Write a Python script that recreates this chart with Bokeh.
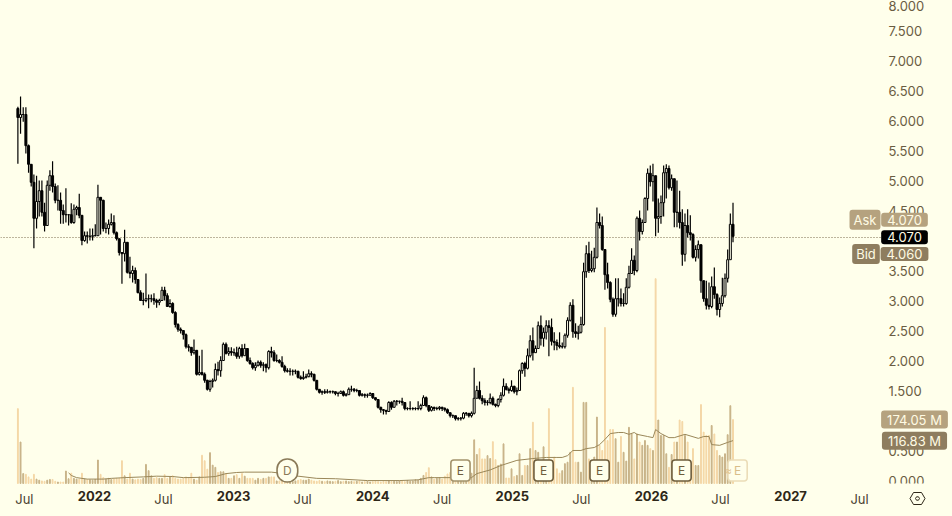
from datetime import datetime, timedelta
from bokeh.plotting import figure
from bokeh.models import (ColumnDataSource, Range1d, LinearAxis, DatetimeAxis, FixedTicker, Label,
                          NumeralTickFormatter, BoxAnnotation, PolyAnnotation)
from bokeh.embed import file_html
from bokeh.resources import INLINE

BG = "#FFFFEB"
FIRST_WEEK = datetime(2021, 6, 14)
FIRST_OPEN = 6.20
closes = [
 6.05,6.10,6.10,5.58,5.27,4.97,4.37,4.65,4.83,4.47, 4.25,4.92,5.08,4.90,4.67,4.67,4.50,4.43,4.43,4.43,
 4.30,4.52,4.55,4.42,4.00,4.08,4.07,4.07,4.08,4.08, 4.72,4.67,4.20,4.20,4.27,4.30,4.13,4.03,3.80,3.78,
 3.97,3.47,3.45,3.50,3.35,3.13,3.00,3.00,3.03,3.03, 3.03,3.00,2.97,3.00,3.17,3.08,2.90,2.95,2.80,2.60,
 2.52,2.50,2.43,2.23,2.22,2.13,2.17,1.77,1.80,1.77, 1.67,1.52,1.65,1.67,1.85,1.83,2.00,2.27,2.12,2.15,
 2.13,2.13,2.07,2.20,2.08,2.20,2.00,1.95,1.88,1.92, 1.97,1.92,1.93,1.88,2.15,2.13,2.00,2.00,1.97,1.90,
 1.83,1.82,1.82,1.82,1.82,1.72,1.70,1.72,1.73,1.78, 1.77,1.67,1.52,1.47,1.48,1.47,1.48,1.48,1.48,1.45,
 1.45,1.48,1.42,1.43,1.52,1.52,1.50,1.50,1.42,1.43, 1.42,1.42,1.45,1.38,1.35,1.22,1.18,1.17,1.15,1.30,
 1.22,1.32,1.32,1.32,1.30,1.20,1.20,1.20,1.20,1.20, 1.20,1.25,1.38,1.25,1.17,1.22,1.20,1.20,1.22,1.20,
 1.18,1.13,1.08,1.08,1.03,1.03,1.04,1.12,1.12,1.08, 1.12,1.37,1.50,1.37,1.33,1.30,1.30,1.37,1.27,1.25,
 1.35,1.42,1.57,1.52,1.50,1.57,1.48,1.50,1.83,1.95, 1.87,2.08,2.33,2.13,2.20,2.58,2.37,2.47,2.58,2.55,
 2.32,2.30,2.25,2.23,2.23,2.42,2.67,2.92,2.48,2.45, 2.47,2.60,3.48,3.78,3.50,3.53,3.72,4.30,4.25,3.85,
 3.43,3.30,3.02,2.77,3.03,3.03,2.95,2.95,3.22,3.45, 3.67,3.50,4.37,4.15,4.30,4.70,5.12,4.98,5.08,4.37,
 4.40,4.63,5.13,5.20,4.88,5.03,4.47,4.47,4.30,3.77, 4.25,4.13,4.10,3.72,3.85,3.93,3.33,3.03,2.92,2.90,
 3.23,3.10,2.85,2.95,3.08,3.37,3.68,4.27,4.07]
highs = [
 6.23,6.40,6.22,6.22,5.60,5.27,5.10,5.08,5.00,5.00, 4.63,5.00,5.17,5.32,4.95,4.92,4.80,4.60,4.87,4.43,
 4.62,4.60,4.58,4.78,4.42,4.15,4.15,4.20,4.20,4.27, 4.93,4.72,4.68,4.30,4.35,4.45,4.42,4.15,4.03,3.80,
 4.18,3.97,3.73,3.58,3.55,3.35,3.17,3.13,3.45,3.10, 3.10,3.12,3.03,3.03,3.23,3.23,3.12,3.02,2.97,2.82,
 2.62,2.55,2.50,2.45,2.27,2.22,2.35,2.17,2.08,2.18, 1.80,1.68,1.68,1.70,1.95,1.98,2.07,2.30,2.30,2.22,
 2.22,2.20,2.23,2.23,2.27,2.28,2.20,2.05,1.97,1.97, 2.00,2.00,1.97,1.95,2.17,2.23,2.17,2.10,2.02,2.07,
 1.93,1.87,1.87,1.85,1.85,1.83,1.75,1.82,1.78,1.85, 1.82,1.78,1.67,1.52,1.50,1.52,1.52,1.50,1.50,1.48,
 1.48,1.50,1.50,1.46,1.55,1.58,1.54,1.53,1.50,1.46, 1.45,1.45,1.47,1.46,1.38,1.35,1.23,1.19,1.17,1.32,
 1.32,1.34,1.34,1.33,1.38,1.30,1.22,1.32,1.22,1.22, 1.32,1.28,1.42,1.40,1.26,1.24,1.23,1.23,1.24,1.23,
 1.22,1.20,1.13,1.10,1.08,1.06,1.06,1.14,1.14,1.12, 1.15,1.88,1.58,1.65,1.42,1.37,1.34,1.45,1.40,1.28,
 1.37,1.47,1.70,1.62,1.55,1.67,1.58,1.55,1.85,1.97, 1.98,2.20,2.42,2.55,2.25,2.65,2.75,2.55,2.67,2.67,
 2.70,2.47,2.35,2.47,2.30,2.45,2.72,2.97,3.02,2.62, 2.58,2.73,3.63,3.92,3.98,3.83,3.88,4.55,4.45,4.40,
 3.85,3.63,3.32,3.05,3.37,3.37,3.20,3.12,3.37,3.58, 3.87,3.75,4.40,4.50,4.35,4.72,5.20,5.25,5.28,5.08,
 4.70,4.75,5.25,5.27,5.25,5.10,5.02,5.00,4.83,4.52, 4.45,4.52,4.42,4.12,3.92,4.00,3.93,3.33,3.33,3.30,
 3.40,3.55,3.12,3.05,3.38,3.45,3.85,4.45,4.63]
lows = [
 5.28,5.78,5.98,5.45,5.13,4.90,3.87,4.20,4.40,4.40, 4.15,4.25,4.83,4.80,4.62,4.50,4.28,4.28,4.30,4.25,
 4.28,4.28,4.42,4.37,3.92,3.98,3.95,4.00,4.00,4.07, 4.10,4.10,4.15,4.12,4.10,4.25,4.10,4.00,3.75,3.28,
 3.65,3.45,3.37,3.30,3.28,3.12,3.00,2.92,2.97,2.87, 2.97,2.93,2.88,2.92,3.00,3.00,2.90,2.88,2.78,2.55,
 2.48,2.45,2.35,2.20,2.15,2.08,2.10,1.75,1.75,1.75, 1.63,1.50,1.48,1.55,1.65,1.75,1.73,2.00,2.10,2.08,
 2.08,2.08,2.03,2.03,2.05,2.10,1.98,1.93,1.85,1.83, 1.90,1.88,1.82,1.80,1.85,2.05,1.98,1.97,1.95,1.88,
 1.80,1.80,1.75,1.75,1.77,1.70,1.68,1.68,1.70,1.72, 1.72,1.65,1.50,1.45,1.43,1.44,1.45,1.45,1.45,1.42,
 1.40,1.44,1.40,1.40,1.43,1.48,1.47,1.47,1.40,1.40, 1.38,1.38,1.42,1.36,1.33,1.20,1.13,1.10,1.10,1.15,
 1.18,1.22,1.25,1.28,1.25,1.17,1.17,1.17,1.17,1.17, 1.17,1.17,1.25,1.22,1.14,1.15,1.16,1.17,1.17,1.16,
 1.15,1.11,1.05,1.04,1.00,1.00,1.00,1.02,1.08,1.05, 1.05,1.10,1.42,1.35,1.27,1.25,1.25,1.27,1.25,1.22,
 1.22,1.30,1.40,1.50,1.45,1.48,1.45,1.42,1.50,1.78, 1.73,1.85,2.05,2.00,2.13,2.20,2.25,2.23,2.35,2.07,
 2.25,2.17,2.17,2.20,2.20,2.20,2.38,2.65,2.38,2.38, 2.35,2.45,2.58,3.38,3.46,3.47,3.47,3.70,4.20,3.83,
 3.18,3.20,2.97,2.73,2.73,2.90,2.90,2.90,2.93,3.20, 3.45,3.42,3.47,4.00,4.10,4.30,4.50,4.90,4.65,4.07,
 4.13,4.28,4.40,4.70,4.85,4.83,4.22,4.22,4.20,3.58, 3.65,4.05,4.00,3.70,3.65,3.70,3.13,2.98,2.85,2.85,
 2.87,3.03,2.75,2.72,2.90,3.05,3.30,3.70,3.97]
volumes_m = [
 204,113,27,25,18,12,25,12,9,7, 6,9,11,11,6,4,4,4,34,13, 28,14,12,12,28,12,11,10,9,11,
 64,25,16,12,14,11,12,14,14,62, 21,12,28,12,10,12,11,14,52,35, 21,14,16,14,14,24,14,18,21,14,
 12,12,14,18,16,28,12,9,18,77, 62,39,84,50,44,30,32,32,27,14, 14,21,24,14,27,20,14,14,14,9,
 14,11,14,14,18,18,18,7,7,9, 7,7,5,5,7,9,11,9,9,12, 9,7,6,8,6,5,7,6,5,6,
 8,5,6,7,5,6,5,6,7,4, 5,6,4,5,6,5,4,6,5,7, 5,6,5,7,6,5,8,6,7,10,
 9,14,22,30,43,18,12,14,16,12, 20,26,30,35,28,22,30,45,40,35, 28,119,79,95,67,67,76,68,114,65,
 49,53,108,15,15,40,19,22,81,22, 49,49,95,167,90,85,60,100,60,204, 60,72,40,28,35,54,58,85,262,58,
 58,31,221,221,67,35,72,181,104,90, 425,117,147,147,122,58,128,85,61,153,
 135,67,135,113,104,117,104,95,90,558, 173,131,131,81,44,79,113,113,173,169,
 131,113,54,95,49,49,215,140,131,131, 158,135,90,76,72,81,133,212,174.05]
ma_weeks = [19,20,22,24,26,32,35,40,47,52,58,62,70,74,78,82,85,95,100,105,112,119,131,143,150,154,156,162,170,172,
            177,181,187,193,198,202,204,206,208,211,213,216,218,220,222,225,227,229,231,232,236,238,239,241,244,246,
            250,255,257,259,260,263,266,268]
ma_values_m = [29,22,16,14,12,12,14,16,18,20,19,16,17,19,27,30,31,31,27,20,14,13,8,8,10,16,16,16,16,27,
               37,49,63,68,71,71,71,76,90,90,95,98,106,120,136,139,139,134,139,134,128,125,147,136,125,125,
               134,123,128,128,106,104,112,116.83]
price_ticks = [0, 0.5, 1.5, 2, 2.5, 3, 3.5, 4.5, 5, 5.5, 6, 6.5, 7, 7.5, 8]
jul_ticks = [datetime(y, 7, 1) for y in range(2021, 2028)]
year_ticks = [datetime(y, 1, 1) for y in range(2022, 2028)]
earnings_dates = [datetime(2024, 8, 18), datetime(2025, 3, 24), datetime(2025, 8, 18), datetime(2026, 3, 21)]
next_earnings = datetime(2026, 8, 15)
dividend_date = datetime(2023, 5, 22)
last_price, ask_price, bid_price = 4.07, 4.07, 4.06
price_line_level = 4.05
last_vol, last_ma = 174.05, 116.83

def ms(d):
    return (d - datetime(1970, 1, 1)).total_seconds() * 1000

dates = [FIRST_WEEK + timedelta(days=7 * i) for i in range(len(closes))]
opens = [FIRST_OPEN] + closes[:-1]
up = [c >= o for o, c in zip(opens, closes)]
src = ColumnDataSource(dict(
    x=dates, o=opens, c=closes, h=highs, l=lows, v=volumes_m,
    top=[max(a, b) for a, b in zip(opens, closes)], bot=[min(a, b) for a, b in zip(opens, closes)],
    fill=[BG if u else "#000000" for u in up],
    vcol=["#C8B388" if u else "#F4D7A6" for u in up],
))

Y2022 = ms(datetime(2022, 1, 1))
p = figure(width=952, height=516, x_axis_type="datetime", x_axis_location=None, y_axis_location=None,
           output_backend="svg", toolbar_location=None,
           x_range=Range1d(Y2022 - 246.6 * 864e5, Y2022 + 2250.8 * 864e5),
           y_range=Range1d(-0.6, 8.0), min_border_left=0, min_border_top=0, min_border_right=0, min_border_bottom=0,
           background_fill_color=BG, border_fill_color=BG, outline_line_color=None)
p.extra_y_ranges = {"vol": Range1d(-89.9, 1316)}
p.grid.visible = False

p.vbar(x="x", top="v", bottom=0, width=2.3 * 864e5, source=src, color="vcol", y_range_name="vol")
p.line([FIRST_WEEK + timedelta(days=7 * w) for w in ma_weeks], ma_values_m, line_color="#9A8759", line_width=1, y_range_name="vol")
p.line([Y2022 - 246.6 * 864e5, Y2022 + 2062 * 864e5], [price_line_level, price_line_level], line_color="#7A6A4C", line_width=1, line_dash="1 2")
p.segment("x", "h", "x", "l", source=src, line_color="#000000", line_width=1.2)
p.vbar(x="x", top="top", bottom="bot", width=5.2 * 864e5, source=src, fill_color="fill", line_color="#000000", line_width=1)

ya = LinearAxis(ticker=FixedTicker(ticks=price_ticks), formatter=NumeralTickFormatter(format="0.000"),
                axis_line_color=None, major_tick_line_color=None, minor_tick_line_color=None,
                major_tick_out=0, major_tick_in=0, minor_tick_out=0, minor_tick_in=0, major_label_standoff=-64,
                major_label_text_font="Inter", major_label_text_font_size="13px", major_label_text_color="#6A5C42")
p.add_layout(ya, "right")

def xaxis(ticks, text, bold, color, size, standoff):
    t = [ms(d) for d in ticks]
    a = DatetimeAxis(ticker=FixedTicker(ticks=t), major_label_overrides={v: s for v, s in zip(t, text)},
                     axis_line_color=None, major_tick_line_color=None, minor_tick_line_color=None,
                     major_tick_out=0, major_tick_in=0, minor_tick_out=0, minor_tick_in=0,
                     major_label_standoff=standoff, major_label_text_font="Inter", major_label_text_font_size=size,
                     major_label_text_color=color, major_label_text_font_style="bold" if bold else "normal")
    p.add_layout(a, "below")

xaxis(jul_ticks, ["Jul"] * len(jul_ticks), False, "#4A4030", "13px", -26)
xaxis(year_ticks, [str(d.year) for d in year_ticks], True, "#2E2718", "13px", -26)

# the edge of the price pane cuts the lowest tick label
p.add_layout(BoxAnnotation(left=880, right=952, top=33, bottom=27, left_units="screen", right_units="screen",
                           top_units="screen", bottom_units="screen", fill_color=BG, fill_alpha=1, line_color=None,
                           level="overlay"))

def pill(sx, y, text, bg, fg="#FFFBE3", y_range=None, pad=(6, 2), off=0):
    kw = dict(y_range_name=y_range) if y_range else {}
    p.add_layout(Label(x=sx, y=y, x_units="screen", y_offset=off, text=text, text_font="Inter", text_font_size="13px",
                       text_color=fg, text_align="center", text_baseline="middle", background_fill_color=bg,
                       background_fill_alpha=1, border_radius=3, padding=pad, level="overlay", **kw))

pill(864.5, ask_price + 0.275, "Ask", "#B5A27F", pad=(4, 2))
pill(904, ask_price + 0.275, f"{ask_price:.3f}", "#B5A27F")
pill(904, bid_price - 0.285, f"{bid_price:.3f}", "#8E7D5F")
pill(865.5, bid_price - 0.285, "Bid", "#8E7D5F", pad=(4, 2))
pill(904, last_price, f"{last_price:.3f}", "#000000", off=-1)
pill(914, last_vol, f"{last_vol:.2f} M", "#B5A27F", y_range="vol", pad=(6, 1))
pill(914, last_ma, f"{last_ma:.2f} M", "#8E7D5F", y_range="vol", pad=(6, 1))

def event(d, text, line, fg, radius, pad=(6, 3), width=1.6):
    p.add_layout(Label(x=ms(d), y=0.167, text=text, text_font="Inter", text_font_size="12px", text_color=fg,
                       text_align="center", text_baseline="middle", background_fill_color=BG, background_fill_alpha=1,
                       border_line_color=line, border_line_width=width, border_radius=radius, padding=pad, level="overlay"))

for i, d in enumerate(earnings_dates):
    col = "#A3926B" if i == 0 else "#6E5D3C"
    event(d, "E", col, "#6E5D3C", 3)
event(next_earnings, "E", "#EBDDB8", "#D9BE8A", 3)
p.add_layout(Label(x=ms(next_earnings), y=0.167, x_offset=-9, text="≈", text_font="Inter", text_font_size="10px",
                   text_color="#E3C48F", text_align="center", text_baseline="middle", level="overlay"))
event(dividend_date, "D", "#8A7A58", "#8A7A58", 10, pad=(6, 4))

p.add_layout(PolyAnnotation(xs=[909.5, 913, 921, 924.5, 921, 913], ys=[18, 24, 24, 18, 12, 12],
                            xs_units="screen", ys_units="screen", fill_alpha=0, line_color="#2E2718", line_alpha=1,
                            line_width=1, level="overlay"))
p.add_layout(PolyAnnotation(xs=[915, 916, 918, 919, 918, 916], ys=[18, 19.7, 19.7, 18, 16.3, 16.3],
                            xs_units="screen", ys_units="screen", fill_alpha=0, line_color="#2E2718", line_alpha=1,
                            line_width=1, level="overlay"))

html = file_html(p, INLINE)
html = html.replace("<head>", f"<head><style>html,body{{margin:0;padding:0;overflow:hidden;background:{BG}}}</style>", 1)
open("out.html", "w").write(html)
